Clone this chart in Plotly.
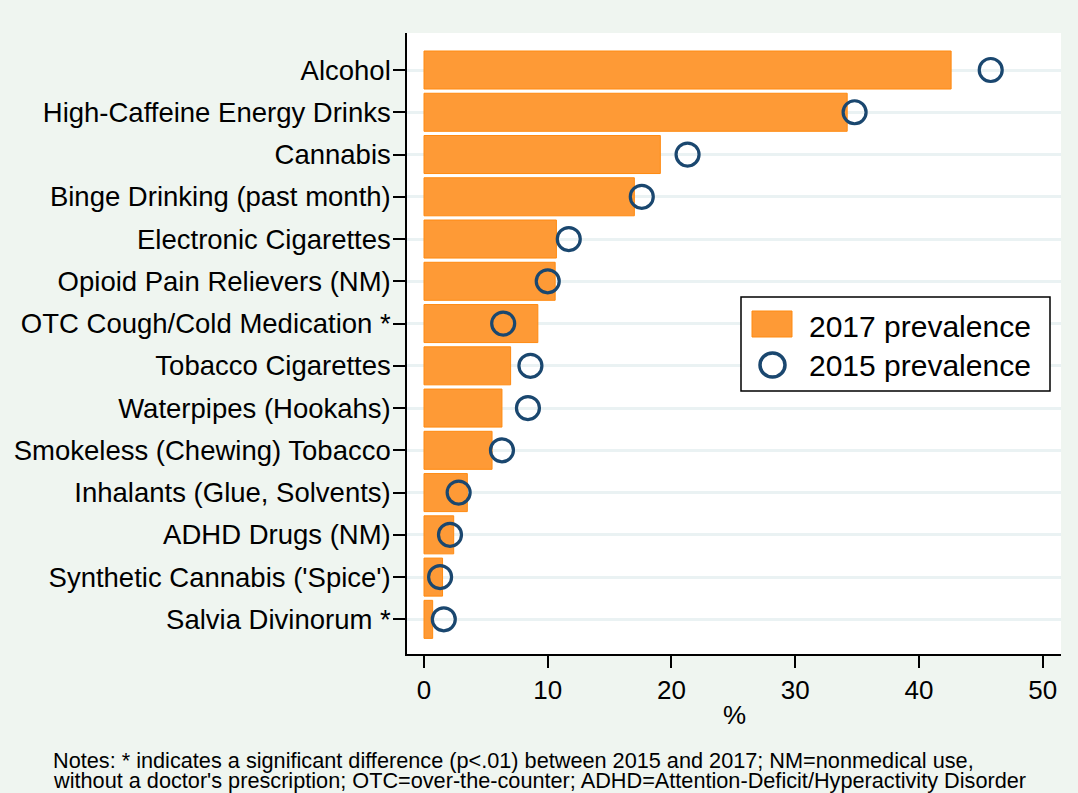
import plotly.graph_objects as go

categories = [
    "Alcohol",
    "High-Caffeine Energy Drinks",
    "Cannabis",
    "Binge Drinking (past month)",
    "Electronic Cigarettes",
    "Opioid Pain Relievers (NM)",
    "OTC Cough/Cold Medication *",
    "Tobacco Cigarettes",
    "Waterpipes (Hookahs)",
    "Smokeless (Chewing) Tobacco",
    "Inhalants (Glue, Solvents)",
    "ADHD Drugs (NM)",
    "Synthetic Cannabis ('Spice')",
    "Salvia Divinorum *",
]
prev_2017 = [42.6, 34.2, 19.1, 17.0, 10.7, 10.6, 9.2, 7.0, 6.3, 5.5, 3.5, 2.4, 1.5, 0.7]
prev_2015 = [45.8, 34.8, 21.3, 17.6, 11.7, 10.0, 6.4, 8.6, 8.4, 6.3, 2.8, 2.1, 1.3, 1.6]
x_ticks = [0, 10, 20, 30, 40, 50]
note_lines = [
    "Notes: * indicates a significant difference (p<.01) between 2015 and 2017; NM=nonmedical use,",
    "without a doctor's prescription; OTC=over-the-counter; ADHD=Attention-Deficit/Hyperactivity Disorder",
]

FONT = "Liberation Sans, Arial, sans-serif"
BG = "#eff5f0"
ORANGE = "#fe9a36"
NAVY = "#1a476f"

pos = list(range(len(categories)))

fig = go.Figure()
fig.add_trace(go.Bar(
    x=prev_2017, y=pos, orientation="h", width=0.9,
    marker=dict(color=ORANGE, line=dict(color="#ff8a10", width=1)),
    name="2017 prevalence", showlegend=False,
))
fig.add_trace(go.Scatter(
    x=prev_2015, y=pos, mode="markers",
    marker=dict(symbol="circle-open", size=23, color=NAVY, line=dict(width=3.2, color=NAVY)),
    name="2015 prevalence", showlegend=False,
))

W, H = 1078, 793
L, R, T, B = 407, 17, 33, 139
pw, ph = W - L - R, H - T - B


def px(x):
    return (x - L) / pw


def py(y):
    return (H - B - y) / ph


shapes = [
    # legend box drawn by hand so the swatches match the original size
    dict(type="rect", xref="paper", yref="paper", x0=px(741), x1=px(1050), y0=py(391), y1=py(297),
         line=dict(color="black", width=1.5), fillcolor="white", layer="above"),
    dict(type="rect", xref="paper", yref="paper", x0=px(752), x1=px(792), y0=py(337), y1=py(311),
         line=dict(color="#ff8a10", width=1), fillcolor=ORANGE, layer="above"),
    dict(type="circle", xref="paper", yref="paper", x0=px(760), x1=px(785), y0=py(377), y1=py(353),
         line=dict(color=NAVY, width=3.5), fillcolor="rgba(0,0,0,0)", layer="above"),
]

annotations = [
    dict(text="2017 prevalence", xref="paper", yref="paper", x=px(807), y=py(326),
         xanchor="left", yanchor="middle", showarrow=False, font=dict(size=30, color="black", family=FONT)),
    dict(text="2015 prevalence", xref="paper", yref="paper", x=px(807), y=py(366),
         xanchor="left", yanchor="middle", showarrow=False, font=dict(size=30, color="black", family=FONT)),
    dict(text="%", xref="paper", yref="paper", x=px(734), y=py(715), xanchor="center", yanchor="middle",
         showarrow=False, font=dict(size=26, color="black", family=FONT)),
]
for i, line in enumerate(note_lines):
    annotations.append(dict(
        text=line, xref="paper", yref="paper", x=px(51), y=py(761 + 19 * i),
        xanchor="left", yanchor="middle", showarrow=False,
        font=dict(size=21.7, color="black", family=FONT),
    ))

fig.update_layout(
    width=W, height=H,
    margin=dict(l=L, r=R, t=T, b=B),
    paper_bgcolor=BG, plot_bgcolor="white",
    font=dict(family=FONT, color="black"),
    shapes=shapes, annotations=annotations,
    xaxis=dict(
        range=[-1.374, 51.48], tickvals=x_ticks, ticks="outside", ticklen=12, tickwidth=1.5,
        tickcolor="black", showline=True, linecolor="black", linewidth=1.5, showgrid=False,
        zeroline=False, tickfont=dict(size=26), fixedrange=True,
    ),
    yaxis=dict(
        range=[13.82, -0.876], tickvals=pos, ticktext=categories, ticks="outside", ticklen=12,
        tickwidth=1.5, tickcolor="black", showline=True, linecolor="black", linewidth=1.5,
        showgrid=True, gridcolor="#eaf2f3", gridwidth=3, zeroline=False,
        tickfont=dict(size=27.5), ticklabelstandoff=-3, fixedrange=True,
    ),
)

fig.write_html("out.html", config={"displayModeBar": False},
               post_script="document.body.style.margin='0';")
